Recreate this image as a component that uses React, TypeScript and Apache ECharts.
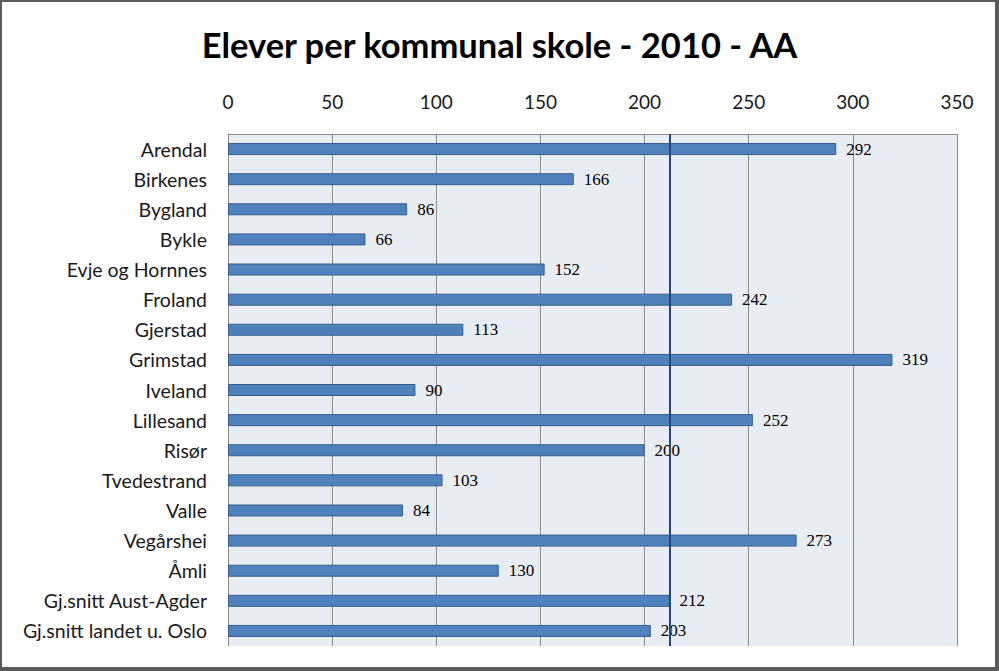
import React, { useEffect, useRef } from "react";
import * as echarts from "echarts";

const titleText = "Elever per kommunal skole - 2010 - AA";
const categories = [
  "Arendal",
  "Birkenes",
  "Bygland",
  "Bykle",
  "Evje og Hornnes",
  "Froland",
  "Gjerstad",
  "Grimstad",
  "Iveland",
  "Lillesand",
  "Risør",
  "Tvedestrand",
  "Valle",
  "Vegårshei",
  "Åmli",
  "Gj.snitt Aust-Agder",
  "Gj.snitt landet u. Oslo",
];
const values = [292, 166, 86, 66, 152, 242, 113, 319, 90, 252, 200, 103, 84, 273, 130, 212, 203];
const referenceValue = 212;
const axisMin = 0;
const axisMax = 350;
const axisStep = 50;

const SANS = "Lato, 'Open Sans', sans-serif";

export default function App() {
  const ref = useRef<HTMLDivElement>(null);

  useEffect(() => {
    if (!ref.current) return;
    const chart = echarts.init(ref.current, undefined, { renderer: "svg" });
    chart.setOption({
      animation: false,
      backgroundColor: "#ffffff",
      title: {
        text: titleText,
        left: "center",
        top: 22,
        textStyle: {
          fontFamily: SANS,
          fontWeight: "bold",
          fontSize: 34.5,
          color: "#000000",
        },
      },
      grid: {
        left: 228,
        top: 134,
        width: 729,
        height: 512,
        show: true,
        backgroundColor: "#e8edf4",
        borderWidth: 0,
      },
      xAxis: {
        type: "value",
        position: "top",
        min: axisMin,
        max: axisMax,
        interval: axisStep,
        axisLine: { show: true, lineStyle: { color: "#8c8c8c", width: 1 } },
        axisTick: { show: false },
        axisLabel: {
          margin: 23,
          fontFamily: SANS,
          fontSize: 19,
          color: "#1a1a1a",
        },
        splitLine: { show: true, lineStyle: { color: "#8c8c8c", width: 1 } },
      },
      yAxis: {
        type: "category",
        data: categories,
        inverse: true,
        axisLine: { show: true, lineStyle: { color: "#8c8c8c", width: 1 } },
        axisTick: { show: false },
        axisLabel: {
          margin: 21,
          fontFamily: SANS,
          fontSize: 19.5,
          color: "#1a1a1a",
        },
      },
      series: [
        {
          type: "bar",
          data: values,
          barWidth: 12,
          itemStyle: {
            color: "#4f81bd",
            borderColor: "#385d8a",
            borderWidth: 1,
          },
          label: {
            show: true,
            position: "right",
            distance: 10,
            fontFamily: "'Liberation Serif', serif",
            fontSize: 17,
            color: "#000000",
          },
          markLine: {
            silent: true,
            symbol: "none",
            label: { show: false },
            lineStyle: { color: "#1f497d", width: 2, type: "solid" },
            data: [{ xAxis: referenceValue }],
          },
        },
      ],
      graphic: [
        { type: "rect", shape: { x: 0, y: 0, width: 999, height: 2 }, style: { fill: "#5a5a5a" } },
        { type: "rect", shape: { x: 0, y: 0, width: 2, height: 671 }, style: { fill: "#5a5a5a" } },
        { type: "rect", shape: { x: 995, y: 0, width: 4, height: 671 }, style: { fill: "#5a5a5a" } },
        { type: "rect", shape: { x: 0, y: 667, width: 999, height: 4 }, style: { fill: "#5a5a5a" } },
      ],
    });
    return () => chart.dispose();
  }, []);

  return (
    <div
      ref={ref}
      style={{ position: "absolute", left: 0, top: 0, width: 999, height: 671 }}
    />
  );
}
